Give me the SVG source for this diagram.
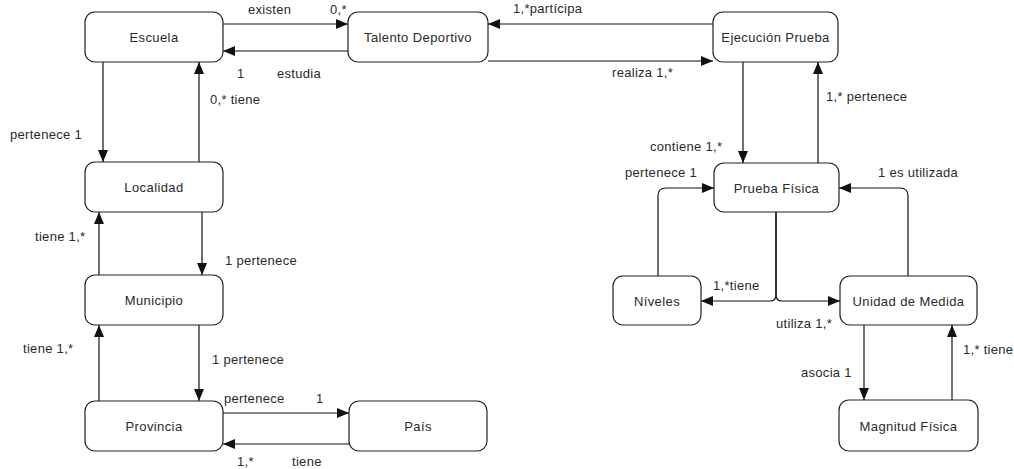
<svg xmlns="http://www.w3.org/2000/svg" width="1014" height="469" viewBox="0 0 1014 469">
<style>
.n rect{fill:#fff;stroke:#222;stroke-width:1.2}
.n text{font-family:"Liberation Sans",Arial,sans-serif;font-size:13px;letter-spacing:0.4px;fill:#2a2a2a;text-anchor:middle}
.c path{fill:none;stroke:#111;stroke-width:1.2}
.l text{font-family:"Liberation Sans",Arial,sans-serif;font-size:13px;letter-spacing:0.3px;fill:#2a2a2a}
</style>
<defs>
<marker id="a" markerUnits="userSpaceOnUse" markerWidth="12" markerHeight="10" refX="12" refY="5" orient="auto">
<path d="M0,0 L12,5 L0,10 z" fill="#111"/>
</marker>
</defs>
<rect width="1014" height="469" fill="#fff"/>
<g class="c">
<path d="M223,24 H348" marker-end="url(#a)"/>
<path d="M348,51 H223" marker-end="url(#a)"/>
<path d="M713,24 H488" marker-end="url(#a)"/>
<path d="M488,61 H713" marker-end="url(#a)"/>
<path d="M103,62 V162" marker-end="url(#a)"/>
<path d="M199,162 V62" marker-end="url(#a)"/>
<path d="M202,212 V275" marker-end="url(#a)"/>
<path d="M99,275 V212" marker-end="url(#a)"/>
<path d="M99,401 V325" marker-end="url(#a)"/>
<path d="M199,325 V401" marker-end="url(#a)"/>
<path d="M223,413 H349" marker-end="url(#a)"/>
<path d="M349,444 H223" marker-end="url(#a)"/>
<path d="M743,62 V163" marker-end="url(#a)"/>
<path d="M818,163 V62" marker-end="url(#a)"/>
<path d="M658,276 V196 Q658,188 666,188 H714" marker-end="url(#a)"/>
<path d="M908,276 V196 Q908,188 900,188 H839" marker-end="url(#a)"/>
<path d="M776,212 V295 Q776,301 770,301 H701" marker-end="url(#a)"/>
<path d="M776,212 V295 Q776,301 782,301 H840" marker-end="url(#a)"/>
<path d="M864,325 V400" marker-end="url(#a)"/>
<path d="M952,400 V325" marker-end="url(#a)"/>
</g>
<g id="escuela" class="n"><rect x="85" y="12" width="138" height="50" rx="10"/><text x="154" y="42">Escuela</text></g>
<g id="talento" class="n"><rect x="348" y="12" width="140" height="50" rx="10"/><text x="418" y="42">Talento Deportivo</text></g>
<g id="ejecucion" class="n"><rect x="713" y="12" width="125" height="50" rx="10"/><text x="775.5" y="42">Ejecución Prueba</text></g>
<g id="localidad" class="n"><rect x="85" y="162" width="138" height="50" rx="10"/><text x="154" y="192">Localidad</text></g>
<g id="municipio" class="n"><rect x="85" y="275" width="138" height="50" rx="10"/><text x="154" y="305">Municipio</text></g>
<g id="provincia" class="n"><rect x="85" y="401" width="138" height="50" rx="10"/><text x="154" y="431">Provincia</text></g>
<g id="pais" class="n"><rect x="349" y="401" width="138" height="50" rx="10"/><text x="418" y="431">País</text></g>
<g id="prueba" class="n"><rect x="714" y="163" width="125" height="49" rx="10"/><text x="776.5" y="193">Prueba Física</text></g>
<g id="niveles" class="n"><rect x="613" y="276" width="88" height="49" rx="10"/><text x="657" y="306">Níveles</text></g>
<g id="unidad" class="n"><rect x="840" y="276" width="137" height="49" rx="10"/><text x="908.5" y="306">Unidad de Medida</text></g>
<g id="magnitud" class="n"><rect x="839" y="400" width="139" height="51" rx="10"/><text x="908.5" y="431">Magnitud Física</text></g>
<g class="l" xml:space="preserve">
<text x="248" y="14">existen</text>
<text x="330" y="14">0,*</text>
<text x="237" y="78">1</text>
<text x="277" y="78">estudia</text>
<text x="210" y="104">0,* tiene</text>
<text x="513" y="13">1,*partícipa</text>
<text x="612" y="77">realiza 1,*</text>
<text x="826" y="101">1,* pertenece</text>
<text x="10" y="139">pertenece  1</text>
<text x="35" y="241">tiene 1,*</text>
<text x="225" y="265">1 pertenece</text>
<text x="23" y="353">tiene 1,*</text>
<text x="212" y="364">1 pertenece</text>
<text x="224" y="403">pertenece</text>
<text x="316" y="403">1</text>
<text x="237" y="466">1,*</text>
<text x="292" y="466">tiene</text>
<text x="650" y="151">contiene  1,*</text>
<text x="625" y="177">pertenece  1</text>
<text x="878" y="177">1  es utilizada</text>
<text x="713" y="290">1,*tiene</text>
<text x="776" y="328">utiliza 1,*</text>
<text x="801" y="377">asocia 1</text>
<text x="963" y="354">1,* tiene</text>
</g>
</svg>
